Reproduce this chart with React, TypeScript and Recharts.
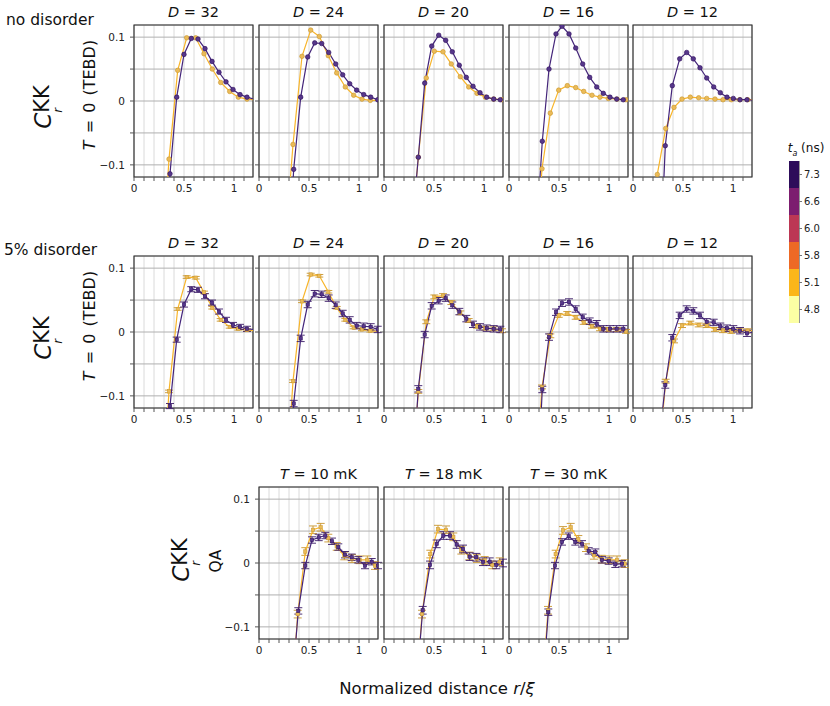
import React from 'react';
import {
  LineChart, Line, XAxis, YAxis, CartesianGrid, ErrorBar, ReferenceArea, BarChart, Bar,
} from 'recharts';

const FONT = '"DejaVu Sans", sans-serif';

// ---- data ----
const bondDims = [32, 24, 20, 16, 12];
const temperatures = [10, 18, 30];

const xTicks = [0, 0.1, 0.2, 0.3, 0.4, 0.5, 0.6, 0.7, 0.8, 0.9, 1, 1.1];
const xTickLabels: Record<string, string> = { '0': '0', '0.5': '0.5', '1': '1' };
const yTicks = [-0.1, -0.05, 0, 0.05, 0.1];
const yTickLabels: Record<string, string> = { '-0.1': '\u22120.1', '0': '0', '0.1': '0.1' };

// r/xi positions for the TEBD panels (one list per D), t_a = 7.3 ns (purple) and 5.1 ns (yellow)
const tebdPurpleX = [
  [0.29, 0.36, 0.427, 0.5, 0.573, 0.64, 0.71, 0.78, 0.85, 0.92, 0.99, 1.06, 1.13, 1.2],
  [0.277, 0.347, 0.417, 0.487, 0.557, 0.627, 0.697, 0.767, 0.837, 0.907, 0.977, 1.047, 1.117, 1.187],
  [0.275, 0.343, 0.407, 0.477, 0.547, 0.617, 0.683, 0.753, 0.823, 0.89, 0.96, 1.027, 1.097, 1.163, 1.233],
  [0.265, 0.333, 0.4, 0.47, 0.53, 0.6, 0.667, 0.737, 0.807, 0.877, 0.943, 1.01, 1.077, 1.143, 1.21],
  [0.255, 0.323, 0.393, 0.467, 0.537, 0.603, 0.67, 0.737, 0.807, 0.873, 0.94, 1.003, 1.07, 1.14, 1.21],
];
const tebdYellowX = [
  [0.263, 0.35, 0.437, 0.527, 0.617, 0.7, 0.783, 0.867, 0.957, 1.043, 1.13, 1.217],
  [0.255, 0.34, 0.43, 0.517, 0.603, 0.693, 0.777, 0.863, 0.947, 1.03, 1.113, 1.2],
  [0.275, 0.343, 0.423, 0.503, 0.59, 0.673, 0.763, 0.847, 0.93, 1.013, 1.097, 1.18],
  [0.247, 0.33, 0.413, 0.497, 0.583, 0.667, 0.747, 0.83, 0.91, 0.993, 1.08, 1.17],
  [0.16, 0.243, 0.327, 0.41, 0.49, 0.573, 0.657, 0.737, 0.82, 0.9, 0.983, 1.067, 1.147, 1.23],
];

// no disorder
const cleanPurple = [
  [-0.35, -0.114, 0.006, 0.073, 0.098, 0.097, 0.082, 0.062, 0.045, 0.03, 0.018, 0.01, 0.006, 0.003],
  [-0.3, -0.107, 0.006, 0.069, 0.091, 0.09, 0.076, 0.058, 0.041, 0.027, 0.017, 0.01, 0.006, 0.002],
  [-0.21, -0.088, 0.028, 0.086, 0.103, 0.095, 0.077, 0.056, 0.037, 0.023, 0.013, 0.006, 0.003, 0.002, 0.001],
  [-0.23, -0.063, 0.05, 0.105, 0.117, 0.105, 0.083, 0.058, 0.037, 0.022, 0.012, 0.006, 0.003, 0.002, 0.001],
  [-0.32, -0.07, 0.024, 0.066, 0.076, 0.066, 0.052, 0.036, 0.022, 0.013, 0.006, 0.004, 0.002, 0.002, 0.001],
];
const cleanYellow = [
  [-0.3, -0.091, 0.048, 0.099, 0.099, 0.074, 0.05, 0.029, 0.015, 0.006, 0.003, 0.002],
  [-0.24, -0.068, 0.07, 0.111, 0.101, 0.071, 0.044, 0.022, 0.009, 0.003, 0.001, 0.001],
  [-0.21, -0.088, 0.036, 0.078, 0.077, 0.058, 0.038, 0.022, 0.012, 0.006, 0.003, 0.002],
  [-0.3, -0.106, -0.019, 0.017, 0.024, 0.021, 0.015, 0.009, 0.006, 0.004, 0.003, 0.002],
  [-0.2, -0.115, -0.043, -0.01, 0.003, 0.006, 0.005, 0.004, 0.003, 0.002, 0.002, 0.002, 0.002, 0.002],
];

// 5% disorder
const disorderPurple = [
  [-0.35, -0.116, -0.012, 0.043, 0.067, 0.066, 0.056, 0.046, 0.032, 0.019, 0.011, 0.008, 0.005, 0.004],
  [-0.35, -0.112, -0.01, 0.043, 0.06, 0.059, 0.053, 0.042, 0.029, 0.019, 0.01, 0.009, 0.008, 0.004],
  [-0.25, -0.089, -0.004, 0.041, 0.049, 0.053, 0.042, 0.032, 0.021, 0.012, 0.008, 0.006, 0.005, 0.004, 0.003],
  [-0.3, -0.09, -0.008, 0.031, 0.045, 0.047, 0.036, 0.023, 0.017, 0.013, 0.005, 0.005, 0.005, 0.005, 0.004],
  [-0.18, -0.083, -0.009, 0.026, 0.036, 0.033, 0.026, 0.016, 0.015, 0.009, 0.006, 0.005, 0.002, -0.002, 0],
];
const disorderYellow = [
  [-0.3, -0.093, 0.036, 0.086, 0.085, 0.062, 0.038, 0.019, 0.008, 0.005, 0.003, 0.002],
  [-0.28, -0.077, 0.048, 0.09, 0.088, 0.063, 0.038, 0.019, 0.007, 0.004, 0.002, 0.001],
  [-0.25, -0.093, 0.016, 0.055, 0.057, 0.046, 0.03, 0.018, 0.009, 0.006, 0.005, 0.002],
  [-0.28, -0.086, -0.006, 0.026, 0.029, 0.023, 0.015, 0.009, 0.005, 0.004, 0.004, 0.001],
  [-0.4, -0.224, -0.077, -0.014, 0.01, 0.014, 0.011, 0.01, 0.004, 0.002, 0.001, 0.003, 0.002, 0.002],
];
const disorderPurpleErr = [0.004, 0.005, 0.005, 0.005, 0.005];
const disorderYellowErr = [0.002, 0.002, 0.003, 0.003, 0.003];

// QA
const qaPurpleX = [
  [0.327, 0.393, 0.463, 0.53, 0.597, 0.663, 0.73, 0.793, 0.86, 0.927, 0.993, 1.06, 1.127, 1.19],
  [0.32, 0.387, 0.46, 0.527, 0.593, 0.66, 0.727, 0.79, 0.857, 0.923, 0.99, 1.057, 1.123, 1.19],
  [0.327, 0.393, 0.46, 0.53, 0.597, 0.663, 0.73, 0.797, 0.863, 0.93, 0.997, 1.063, 1.13, 1.197],
];
const qaYellowX = [
  [0.31, 0.387, 0.463, 0.54, 0.617, 0.693, 0.777, 0.853, 0.93, 1.007, 1.083, 1.16],
  [0.3, 0.38, 0.463, 0.54, 0.62, 0.693, 0.773, 0.853, 0.93, 1.007, 1.083, 1.157],
  [0.31, 0.39, 0.467, 0.54, 0.617, 0.693, 0.77, 0.85, 0.927, 1.003, 1.08, 1.157],
];
const qaPurple = [
  [-0.2, -0.075, -0.004, 0.036, 0.04, 0.043, 0.034, 0.025, 0.013, 0.009, 0.005, -0.004, 0.002, -0.004],
  [-0.2, -0.074, -0.003, 0.03, 0.043, 0.043, 0.029, 0.022, 0.01, 0.009, 0.002, 0.002, -0.003, 0],
  [-0.22, -0.077, -0.004, 0.033, 0.042, 0.033, 0.03, 0.019, 0.017, 0.005, 0.003, -0.002, -0.001, -0.002],
];
const qaYellow = [
  [-0.25, -0.08, 0.018, 0.052, 0.056, 0.039, 0.026, 0.011, 0.007, 0.005, 0.005, -0.004],
  [-0.25, -0.08, 0.014, 0.053, 0.052, 0.041, 0.02, 0.011, 0.007, 0.004, -0.003, 0.002],
  [-0.25, -0.074, 0.014, 0.051, 0.056, 0.037, 0.024, 0.012, 0.006, 0.005, 0.005, -0.001],
];
const qaPurpleErr = [0.005, 0.006, 0.005];
const qaYellowErr = [0.006, 0.006, 0.006];

// colorbar
const taLabels = ['4.8', '5.1', '5.8', '6.0', '6.6', '7.3'];
const taColors = ['#fcffa4', '#fbb61a', '#ed6925', '#bc3754', '#7c1d6f', '#2d0c5a'];
const cbTicks = [0.5, 1.5, 2.5, 3.5, 4.5, 5.5];

// ---- layout ----
const PW = 119;
const PH = 152;
const colLeft = [134, 259, 384, 509, 633];
const rowTop = [25, 256, 487];
const X_MAX = 1.19;
const Y_LIM = 0.119;
const AXW = 36;

const PURPLE = '#44257a';
const YELLOW = '#f8b52a';

type Pt = { x: number; y: number; err?: number };

const inView = (x: number, y: number) => x >= 0 && x <= X_MAX && y >= -0.122 && y <= 0.122;

const toPoints = (xs: number[], ys: number[], err?: number): Pt[] =>
  xs.map((x, i) => ({ x, y: ys[i], err: err && inView(x, ys[i]) ? err : undefined }));

const makeDot = (fill: string, edge: string, square: boolean) => (props: any) => {
  const { cx, cy, payload, index } = props;
  const key = `dot-${index}`;
  if (!payload || !inView(payload.x, payload.y)) return <g key={key} />;
  if (square) {
    return <rect key={key} x={cx - 1.7} y={cy - 1.7} width={3.4} height={3.4} fill={fill} stroke={edge} strokeWidth={0.5} />;
  }
  return <circle key={key} cx={cx} cy={cy} r={2.3} fill={fill} stroke={edge} strokeWidth={0.6} />;
};

function Panel({ left, top, purple, yellow, showY, square }: {
  left: number; top: number; purple: Pt[]; yellow: Pt[]; showY: boolean; square: boolean;
}) {
  return (
    <div style={{ position: 'absolute', left: left - AXW, top: top - 5 }}>
      <LineChart width={AXW + PW + 5} height={PH + 5 + 24} margin={{ top: 5, right: 5, bottom: 0, left: 0 }}>
        <CartesianGrid vertical horizontal={false} stroke="#dadada" />
        <CartesianGrid horizontal vertical={false} stroke="#b0b0b0" />
        <XAxis
          type="number" dataKey="x" domain={[0, X_MAX]} ticks={xTicks} allowDataOverflow interval={0}
          height={24} tickSize={4} tickMargin={4} axisLine={false}
          tickLine={{ stroke: '#555' }}
          tick={{ fontSize: 10.5, fill: '#222', fontFamily: FONT }}
          tickFormatter={(v: number) => xTickLabels[String(v)] ?? ''}
        />
        <YAxis
          type="number" domain={[-Y_LIM, Y_LIM]} ticks={yTicks} allowDataOverflow interval={0}
          width={AXW} tickSize={4} tickMargin={5} axisLine={false}
          tickLine={{ stroke: '#555' }}
          tick={{ fontSize: 10.5, fill: '#222', fontFamily: FONT }}
          tickFormatter={(v: number) => (showY ? yTickLabels[String(v)] ?? '' : '')}
        />
        <Line
          data={yellow} dataKey="y" type="linear" stroke={YELLOW} strokeWidth={1.2}
          dot={makeDot('#ebbb58', '#c8952c', square)} activeDot={false} isAnimationActive={false}
        >
          {square && <ErrorBar dataKey="err" direction="y" width={4} stroke="#c8952c" strokeWidth={0.9} />}
        </Line>
        <Line
          data={purple} dataKey="y" type="linear" stroke={PURPLE} strokeWidth={1.2}
          dot={makeDot('#56378a', '#2d0c5a', square)} activeDot={false} isAnimationActive={false}
        >
          {square && <ErrorBar dataKey="err" direction="y" width={4} stroke="#3a1a66" strokeWidth={0.9} />}
        </Line>
        <ReferenceArea x1={0} x2={X_MAX} y1={-Y_LIM} y2={Y_LIM} fill="none" stroke="#333" strokeWidth={1.2} />
      </LineChart>
    </div>
  );
}

const Txt = ({ x, y, size, children, rotate = false, start = false, style }: any) => (
  <div
    style={{
      position: 'absolute', left: x, top: y, fontSize: size, lineHeight: 1, whiteSpace: 'nowrap',
      fontFamily: FONT, color: '#111',
      transform: `translate(${start ? '0' : '-50%'}, -50%)${rotate ? ' rotate(-90deg)' : ''}`,
      ...style,
    }}
  >
    {children}
  </div>
);

const CLabel = ({ x, y }: { x: number; y: number }) => (
  <Txt x={x} y={y} size={23} rotate>
    <span style={{ fontStyle: 'italic' }}>C</span>
    <span style={{ position: 'relative', display: 'inline-block' }}>
      <span style={{ fontSize: 21, position: 'relative', top: -2 }}>KK</span>
      <span style={{ position: 'absolute', left: 0, top: '85%', fontSize: 12, fontStyle: 'italic' }}>r</span>
    </span>
  </Txt>
);

const TebdLabel = ({ x, y }: { x: number; y: number }) => (
  <Txt x={x} y={y} size={16} rotate style={{ wordSpacing: 2 }}>
    <i>T</i> = 0 (TEBD)
  </Txt>
);

export default function App() {
  return (
    <div style={{ position: 'absolute', left: 0, top: 0, width: 830, height: 706, background: '#fff', fontFamily: FONT }}>
      {bondDims.map((d, i) => (
        <React.Fragment key={`r1-${d}`}>
          <Txt x={colLeft[i] + PW / 2} y={12} size={14.5}><i>D</i> = {d}</Txt>
          <Panel
            left={colLeft[i]} top={rowTop[0]} showY={i === 0} square={false}
            purple={toPoints(tebdPurpleX[i], cleanPurple[i])}
            yellow={toPoints(tebdYellowX[i], cleanYellow[i])}
          />
        </React.Fragment>
      ))}
      {bondDims.map((d, i) => (
        <React.Fragment key={`r2-${d}`}>
          <Txt x={colLeft[i] + PW / 2} y={243} size={14.5}><i>D</i> = {d}</Txt>
          <Panel
            left={colLeft[i]} top={rowTop[1]} showY={i === 0} square
            purple={toPoints(tebdPurpleX[i], disorderPurple[i], disorderPurpleErr[i])}
            yellow={toPoints(tebdYellowX[i], disorderYellow[i], disorderYellowErr[i])}
          />
        </React.Fragment>
      ))}
      {temperatures.map((t, i) => (
        <React.Fragment key={`r3-${t}`}>
          <Txt x={colLeft[i + 1] + PW / 2} y={474} size={14.5}><i>T</i> = {t} mK</Txt>
          <Panel
            left={colLeft[i + 1]} top={rowTop[2]} showY={i === 0} square
            purple={toPoints(qaPurpleX[i], qaPurple[i], qaPurpleErr[i])}
            yellow={toPoints(qaYellowX[i], qaYellow[i], qaYellowErr[i])}
          />
        </React.Fragment>
      ))}

      <Txt x={6} y={21} size={15.5} start>no disorder</Txt>
      <Txt x={4} y={251} size={15.5} start>5% disorder</Txt>
      <CLabel x={43} y={107} />
      <TebdLabel x={90} y={95} />
      <CLabel x={43} y={338} />
      <TebdLabel x={90} y={326} />
      <CLabel x={181} y={560} />
      <Txt x={217} y={561} size={15.5} rotate>QA</Txt>

      <Txt x={437} y={689} size={16.5}>
        Normalized distance <i>r</i>/<i>ξ</i>
      </Txt>

      <Txt x={806} y={150} size={12}>
        <i>t</i><sub style={{ fontSize: 8 }}><i>a</i></sub> (ns)
      </Txt>
      <div style={{ position: 'absolute', left: 789, top: 161 }}>
        <BarChart
          width={40} height={162} data={[{ name: 'ta', s0: 1, s1: 1, s2: 1, s3: 1, s4: 1, s5: 1 }]}
          margin={{ top: 0, right: 0, bottom: 0, left: 0 }} barCategoryGap={0}
        >
          <XAxis dataKey="name" hide />
          <YAxis
            orientation="right" type="number" domain={[0, 6]} ticks={cbTicks} interval={0}
            width={30} tickSize={3} tickMargin={2} axisLine={false}
            tickLine={{ stroke: '#777' }}
            tick={{ fontSize: 10, fill: '#222', fontFamily: FONT }}
            tickFormatter={(v: number) => taLabels[Math.floor(v)]}
          />
          {taColors.map((c, i) => (
            <Bar key={c} dataKey={`s${i}`} stackId="cb" fill={c} isAnimationActive={false} />
          ))}
          <ReferenceArea y1={0} y2={6} fill="none" stroke="#333" strokeWidth={1} />
        </BarChart>
      </div>
    </div>
  );
}
